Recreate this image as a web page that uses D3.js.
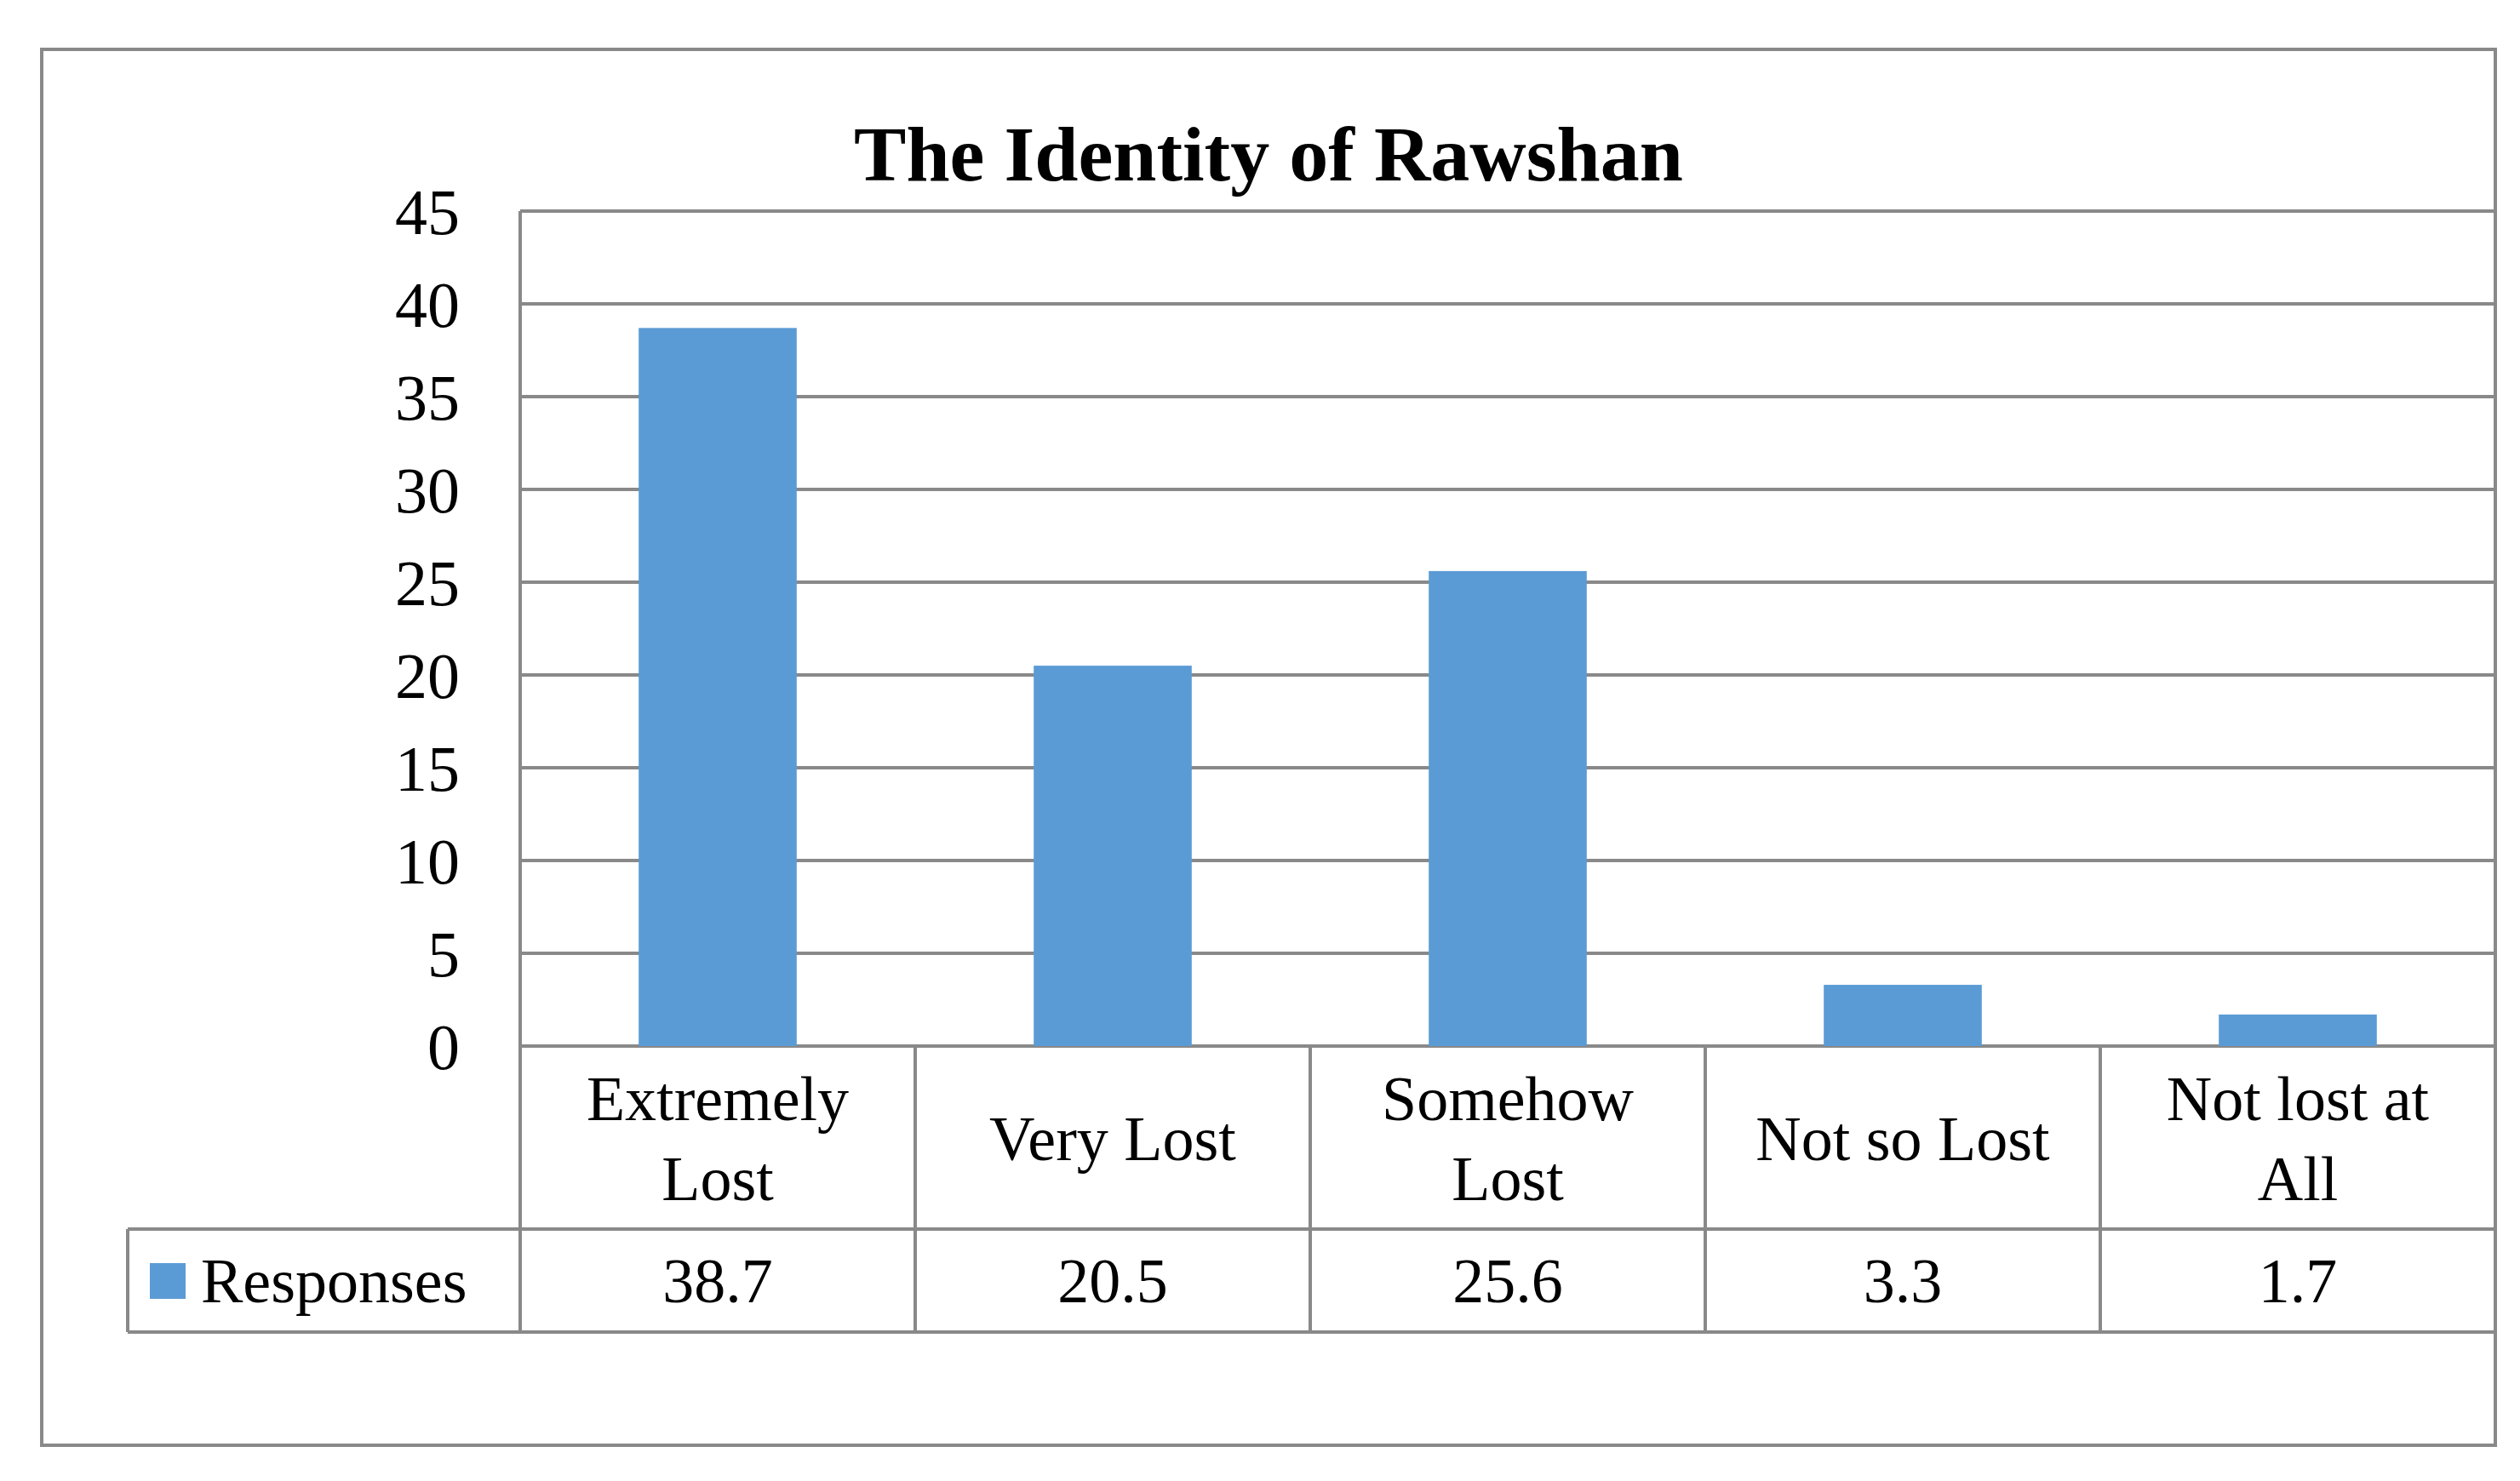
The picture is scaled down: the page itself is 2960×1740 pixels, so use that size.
<!DOCTYPE html>
<html><head><meta charset="utf-8">
<script src="https://cdn.jsdelivr.net/npm/d3@7"></script>
<style>body{margin:0;background:#fff}text{font-family:"Liberation Serif","Times New Roman",serif}</style>
</head><body>
<div id="chart"></div>
<script>
var width = 2960, height = 1740;

var categories = [["Extremely", "Lost"], ["Very Lost"], ["Somehow", "Lost"], ["Not so Lost"], ["Not lost at", "All"]];
var values = [38.7, 20.5, 25.6, 3.3, 1.7];
var valueLabels = ["38.7", "20.5", "25.6", "3.3", "1.7"];
var yTicks = [0, 5, 10, 15, 20, 25, 30, 35, 40, 45];
var seriesName = "Responses";

var plotLeft = 611, plotRight = 2931, plotTop = 248, zero = 1229,
    row1 = 1444, row2 = 1565, legendLeft = 150;
var grey = "#898989", blue = "#5B9BD5";

var svg = d3.select("#chart").append("svg")
    .attr("width", width).attr("height", height);

// outer frame
svg.append("rect").attr("x", 49).attr("y", 58).attr("width", 2882).attr("height", 1640)
    .attr("fill", "none").attr("stroke", grey).attr("stroke-width", 4);

svg.append("text").attr("x", 1490).attr("y", 212).attr("text-anchor", "middle")
    .attr("font-size", 92).attr("font-weight", "bold").text("The Identity of Rawshan");

var x = d3.scaleBand().domain(d3.range(values.length)).range([plotLeft, plotRight]);
var y = d3.scaleLinear().domain([0, 45]).range([zero, plotTop]);

// gridlines
svg.append("g").selectAll("line").data(yTicks).enter().append("line")
    .attr("x1", plotLeft).attr("x2", plotRight).attr("y1", d => y(d)).attr("y2", d => y(d))
    .attr("stroke", grey).attr("stroke-width", 4);

svg.append("g").selectAll("text").data(yTicks).enter().append("text")
    .attr("x", 540).attr("y", d => y(d)).attr("dy", "0.35em").attr("text-anchor", "end")
    .attr("font-size", 76).text(d => d);

// bars
var bw = x.bandwidth() * 0.4;
svg.append("g").selectAll("rect").data(values).enter().append("rect")
    .attr("x", (d, i) => x(i) + (x.bandwidth() - bw) / 2)
    .attr("y", d => y(d)).attr("width", bw).attr("height", d => zero - y(d))
    .attr("fill", blue);

// data table lines
var t = svg.append("g").attr("stroke", grey).attr("stroke-width", 4);
t.append("line").attr("x1", plotLeft).attr("x2", plotLeft).attr("y1", plotTop).attr("y2", row2);
t.append("line").attr("x1", legendLeft).attr("x2", plotRight).attr("y1", row1).attr("y2", row1);
t.append("line").attr("x1", legendLeft).attr("x2", plotRight).attr("y1", row2).attr("y2", row2);
t.append("line").attr("x1", legendLeft).attr("x2", legendLeft).attr("y1", row1).attr("y2", row2);
t.selectAll(".v").data(d3.range(1, values.length + 1)).enter().append("line")
    .attr("x1", i => i < values.length ? x(i) : plotRight).attr("x2", i => i < values.length ? x(i) : plotRight)
    .attr("y1", zero).attr("y2", row2);

// category labels
var cat = svg.append("g").selectAll("text").data(categories).enter().append("text")
    .attr("text-anchor", "middle").attr("font-size", 74)
    .attr("x", (d, i) => x(i) + x.bandwidth() / 2);
cat.selectAll("tspan").data(d => d.map((s, j) => ({s: s, j: j, n: d.length}))).enter().append("tspan")
    .attr("x", function () { return d3.select(this.parentNode).attr("x"); })
    .attr("y", d => 1337 + (d.j - (d.n - 1) / 2) * 94).attr("dy", "0.35em")
    .text(d => d.s);

// values row
svg.append("g").selectAll("text").data(valueLabels).enter().append("text")
    .attr("text-anchor", "middle").attr("font-size", 74)
    .attr("x", (d, i) => x(i) + x.bandwidth() / 2).attr("y", 1504).attr("dy", "0.35em")
    .text(d => d);

// legend key
svg.append("rect").attr("x", 176).attr("y", 1484).attr("width", 42).attr("height", 42).attr("fill", blue);
svg.append("text").attr("x", 236).attr("y", 1504).attr("dy", "0.35em").attr("font-size", 74).text(seriesName);
</script>
</body></html>
